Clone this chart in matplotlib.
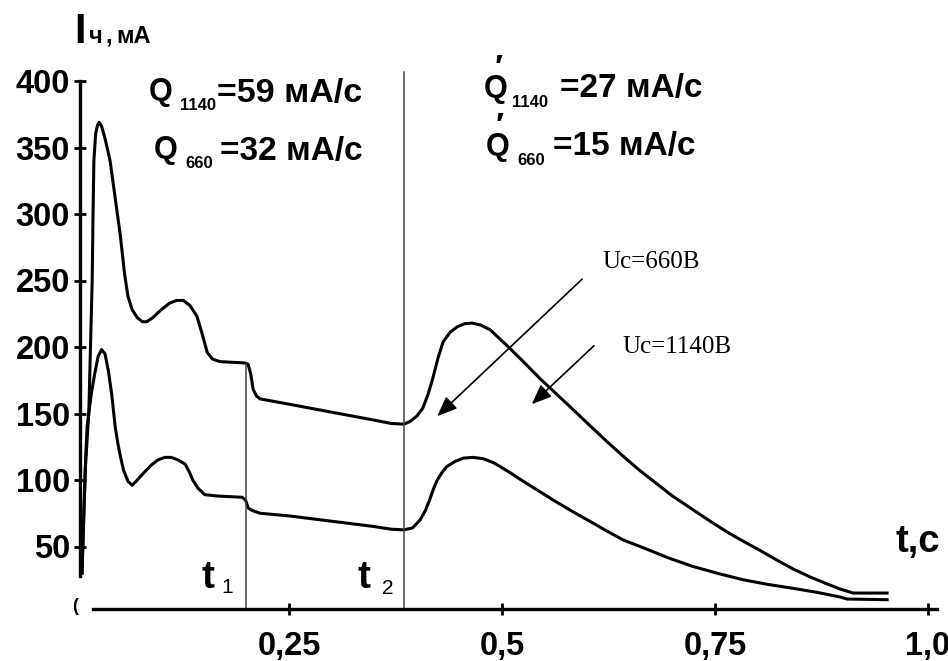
import matplotlib
matplotlib.use("Agg")
import matplotlib.pyplot as plt

# time, s
t_upper = [0.007, 0.009, 0.011, 0.015, 0.017, 0.019, 0.020, 0.021, 0.023, 0.025, 0.027,
           0.030, 0.034, 0.040, 0.046, 0.052, 0.057, 0.061, 0.066, 0.072, 0.078, 0.083,
           0.090, 0.100, 0.110, 0.118, 0.126, 0.134, 0.142, 0.148, 0.154, 0.160, 0.169,
           0.198, 0.202, 0.205, 0.208, 0.212, 0.216, 0.25, 0.30, 0.35, 0.37, 0.385, 0.392,
           0.400, 0.407, 0.413, 0.419, 0.425, 0.431, 0.439, 0.447, 0.456, 0.465, 0.475,
           0.486, 0.496, 0.506, 0.525, 0.545, 0.565, 0.585, 0.603, 0.623, 0.642, 0.662,
           0.682, 0.700, 0.721, 0.742, 0.764, 0.783, 0.803, 0.822, 0.842, 0.862, 0.881,
           0.897, 0.912, 0.952]
# current, mA (upper curve)
i_upper = [30, 70, 110, 150, 200, 250, 300, 340, 360, 366, 369,
           366, 357, 340, 312, 284, 255, 238, 228, 222, 219, 219,
           222, 228, 233, 235, 235, 231, 223, 210, 196, 191, 189,
           188, 187, 180, 168, 163, 161, 157, 151, 145, 142.5, 142, 144,
           148, 154, 164, 177, 192, 204, 211, 215, 217.5, 218, 216.5,
           213, 207, 201, 189, 176, 164, 152, 141, 129, 118, 107,
           97, 88, 79, 70, 61, 54, 47, 40, 33, 27, 22,
           18, 15, 15]

t_lower = [0.007, 0.009, 0.011, 0.013, 0.018, 0.022, 0.026, 0.030, 0.034, 0.038, 0.042,
           0.046, 0.049, 0.052, 0.056, 0.061, 0.066, 0.072, 0.079, 0.088, 0.096, 0.104,
           0.112, 0.120, 0.128, 0.133, 0.137, 0.143, 0.151, 0.165, 0.195, 0.199, 0.202,
           0.207, 0.216, 0.25, 0.30, 0.35, 0.37, 0.385, 0.395, 0.404, 0.410, 0.415, 0.420,
           0.424, 0.430, 0.435, 0.445, 0.455, 0.466, 0.478, 0.490, 0.498, 0.512, 0.525,
           0.545, 0.565, 0.585, 0.603, 0.622, 0.642, 0.670, 0.695, 0.724, 0.755, 0.783,
           0.812, 0.842, 0.870, 0.897, 0.905, 0.952]
i_lower = [30, 70, 110, 140, 165, 180, 193, 198, 195, 182, 164,
           140, 128, 118, 107, 99, 96, 100, 105, 111, 115, 117,
           117, 115, 112, 106, 100, 94, 89, 88, 87, 85, 79,
           77, 75, 73, 69, 65, 63, 62.5, 64, 70, 77, 85, 94,
           100, 106, 110, 114, 116.5, 117, 116, 113, 110, 104.5, 99,
           91, 83, 75.5, 69, 62, 55, 48, 41.5, 35, 29.5, 25,
           21.5, 18.5, 15.5, 12, 10.5, 10]

y_ticks = [50, 100, 150, 200, 250, 300, 350, 400]
x_ticks = [0.25, 0.5, 0.75, 1.0]
x_tick_labels = ["0,25", "0,5", "0,75", "1,0"]
t1, t2 = 0.2, 0.385

W, H = 948, 661
SANS = ["Liberation Sans", "DejaVu Sans"]
SERIF = ["Liberation Serif", "DejaVu Serif"]

fig = plt.figure(figsize=(W / 100, H / 100), dpi=100)
ax = fig.add_axes([0, 0, 1, 1])
ax.set_facecolor("white")
ax.set_xlim(-76 / 852, (W - 76) / 852)
ax.set_ylim(-48 / 1.33, 613 / 1.33)

ax.plot(t_upper, i_upper, color="black", lw=2.2, solid_joinstyle="round")
ax.plot(t_lower, i_lower, color="black", lw=2.2, solid_joinstyle="round")

# t1 / t2 markers
ax.plot([t1, t1], [3, 187], color="#444444", lw=1.1)
ax.plot([t2, t2], [3, 407], color="#444444", lw=1.1)

# axes
for s in ["top", "right"]:
    ax.spines[s].set_visible(False)
ax.spines["left"].set_position(("data", 0.005))
ax.spines["left"].set_bounds(28, 400)
ax.spines["bottom"].set_position(("data", 3))
ax.spines["bottom"].set_bounds(0.02, 1.011)
for s in ["left", "bottom"]:
    ax.spines[s].set_linewidth(2.4)

ax.set_yticks(y_ticks)
ax.set_yticklabels([str(v) for v in y_ticks])
ax.set_xticks(x_ticks)
ax.set_xticklabels(x_tick_labels)
ax.tick_params(axis="both", direction="inout", length=9, width=2)
ax.tick_params(axis="y", pad=3)
ax.tick_params(axis="x", pad=11)
for lab in ax.get_xticklabels() + ax.get_yticklabels():
    lab.set_fontfamily(SANS)
    lab.set_fontweight("bold")
    lab.set_fontsize(23.5)


def px(x, y):
    return x / W, 1 - y / H


def put(x, y, s, size, weight="bold", family=SANS):
    fig.text(*px(x, y), s, fontsize=size, fontweight=weight, family=family,
             ha="left", va="baseline")


# clipped zero label
put(72, 611, "(", 13)

# axis titles
put(74, 43, "I", 30)
put(89, 43, "ч", 17)
put(105, 43, ",", 17)
put(116, 43, "мА", 17)
put(895, 552, "t,с", 27.5)
put(202, 588, "t", 28)
put(221, 593, "1", 15, weight="normal")
put(358, 588, "t", 28)
put(382, 594, "2", 15, weight="normal")

# charge rates
put(149, 100, "Q", 22)
put(180, 110, "1140", 12)
put(217, 102, "=59 мА/с", 24.5)
put(154, 158, "Q", 22)
put(185, 168, "660", 12)
put(220, 160, "=32 мА/с", 24)

put(484, 97, "Q", 22)
put(495, 78, "′", 24)
put(512, 107, "1140", 12)
put(560, 97, "=27 мА/с", 24)
put(486, 155, "Q", 22)
put(496, 136, "′", 24)
put(517, 165, "660", 12)
put(553, 155, "=15 мА/с", 24)

# curve labels
put(602, 268, "Uс=660В", 18, weight="normal", family=SERIF)
put(622, 353, "Uс=1140В", 18, weight="normal", family=SERIF)

arrow = dict(arrowstyle="-|>,head_length=1.1,head_width=0.45", color="black",
             lw=1.2, mutation_scale=11, shrinkA=0, shrinkB=0)
ax.annotate("", xy=(0.424, 148), xytext=(0.594, 251), arrowprops=arrow)
ax.annotate("", xy=(0.535, 157), xytext=(0.608, 201), arrowprops=arrow)

fig.savefig("out.png", dpi=100)
